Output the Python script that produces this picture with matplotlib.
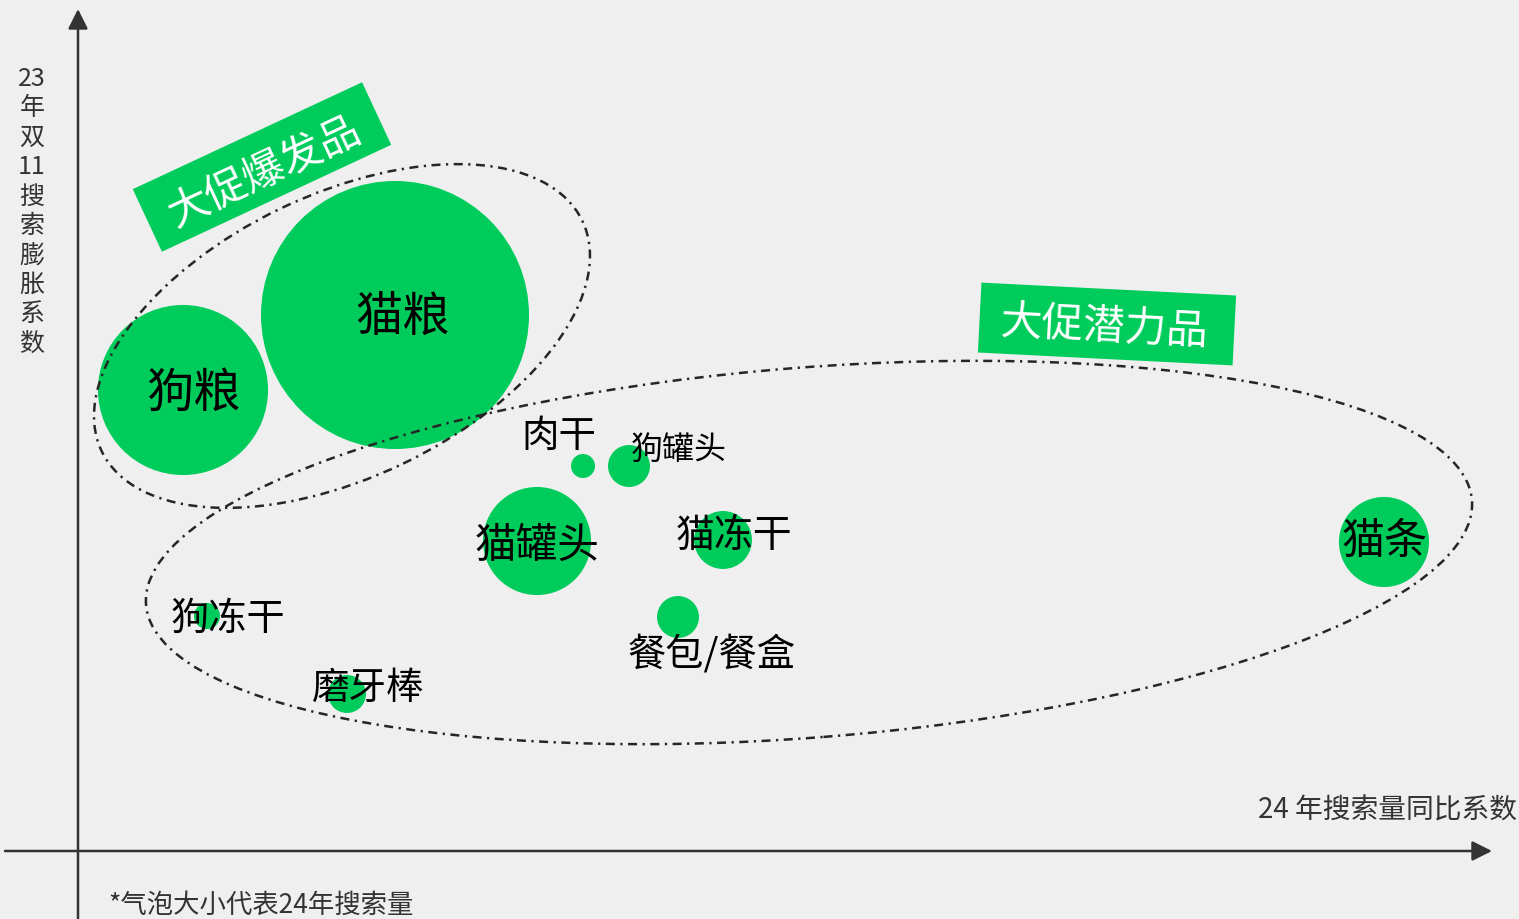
import matplotlib
matplotlib.use('Agg')
import matplotlib.pyplot as plt
from matplotlib.patches import Circle, Ellipse, Rectangle
import numpy as np

plt.rcParams['font.family'] = ['Noto Sans CJK SC', 'DejaVu Sans']

# ---------------- data ----------------
categories = ['狗粮', '猫粮', '肉干', '狗罐头', '猫罐头', '猫冻干', '餐包/餐盒', '猫条', '狗冻干', '磨牙棒']
yoy_index = [10.5, 31.7, 50.5, 55.1, 45.9, 64.5, 60.0, 130.6, 12.9, 26.9]        # 24年搜索量同比系数
d11_expansion = [46.1, 53.6, 38.5, 38.5, 31.0, 31.1, 23.4, 30.9, 23.5, 15.7]     # 23年双11搜索膨胀系数
search_volume = [72.3, 179.6, 1.44, 4.4, 29.2, 8.4, 4.4, 20.3, 1.7, 3.6]          # 24年搜索量 (bubble size)

x_label = '24 年搜索量同比系数'
y_label_lines = ['23', '年', '双', '11', '搜', '索', '膨', '胀', '系', '数']
footnote = '*气泡大小代表24年搜索量'
group_labels = ['大促爆发品', '大促潜力品']

# ---------------- style / layout ----------------
GREEN = '#00cc5c'
BG = '#efefef'
LINE = '#333333'
DASH = '#262626'

# label offsets (px, image coords: +x right, +y down) and font sizes (pt)
label_offsets = {'狗粮': (10, 3), '猫粮': (8, 2), '肉干': (-24, -31), '狗罐头': (50, -17),
                 '猫罐头': (0, 4), '猫冻干': (11, -5), '餐包/餐盒': (34, 37), '猫条': (1, -1),
                 '狗冻干': (21, 2), '磨牙棒': (21, -7)}
label_sizes = {'狗粮': 34, '猫粮': 34, '肉干': 27, '狗罐头': 23, '猫罐头': 30, '猫冻干': 28,
               '餐包/餐盒': 27.5, '猫条': 31, '狗冻干': 27.5, '磨牙棒': 27}

fig = plt.figure(figsize=(15.19, 9.2), dpi=100)
fig.patch.set_facecolor(BG)
ax = fig.add_axes([0, 0, 1, 1])
ax.set_facecolor(BG)
ax.set_xlim(-7.8, 144.1)
ax.set_ylim(-6.8, 85.2)
ax.axis('off')

# axes arrows
ax.annotate('', xy=(141.4, 0), xytext=(-7.3, 0),
            arrowprops=dict(arrowstyle='-|>', mutation_scale=30, lw=1.8, color=LINE,
                            shrinkA=0, shrinkB=0), zorder=1)
ax.annotate('', xy=(0, 84.2), xytext=(0, -6.8),
            arrowprops=dict(arrowstyle='-|>', mutation_scale=30, lw=1.8, color=LINE,
                            shrinkA=0, shrinkB=0), zorder=1)

# bubbles
for cat, x, y, v in zip(categories, yoy_index, d11_expansion, search_volume):
    r = np.sqrt(v)
    ax.add_patch(Circle((x, y), r, facecolor=GREEN, edgecolor='none', zorder=2))
    dx, dy = label_offsets[cat]
    ax.text(x + dx / 10, y - dy / 10, cat, fontsize=label_sizes[cat], color='black',
            ha='center', va='center', zorder=4)

# group ellipses
ls = (0, (3.6, 2.2, 0.9, 2.2))
ax.add_patch(Ellipse((26.4, 51.5), 53.3, 28.3, angle=25.6, fill=False, edgecolor=DASH,
                     lw=1.8, linestyle=ls, zorder=3))
ax.add_patch(Ellipse((73.1, 29.85), 133.0, 37.0, angle=4.5, fill=False, edgecolor=DASH,
                     lw=1.8, linestyle=ls, zorder=3))

# group label boxes
boxes = [((18.4, 68.4), 25.3, 6.9, 25.0, (18.6, 68.0)),
         ((102.9, 52.7), 25.5, 7.0, -2.9, (102.6, 52.5))]
for text, (c, w, h, ang, tc) in zip(group_labels, boxes):
    ax.add_patch(Rectangle((c[0] - w / 2, c[1] - h / 2), w, h, angle=ang,
                           rotation_point='center', facecolor=GREEN, edgecolor='none', zorder=5))
    ax.text(tc[0], tc[1], text, fontsize=30, color='white', rotation=ang,
            rotation_mode='anchor', ha='center', va='center', zorder=6)

# axis titles
for i, s in enumerate(y_label_lines):
    ax.text(-4.6, 77.3 - i * 2.94, s, fontsize=18, color=LINE, ha='center', va='center')
ax.text(143.9, 4.1, x_label, fontsize=20, color=LINE, ha='right', va='center')
ax.text(3.0, -5.3, footnote, fontsize=19, color=LINE, ha='left', va='center')

fig.savefig('out.png', dpi=100, facecolor=BG)
